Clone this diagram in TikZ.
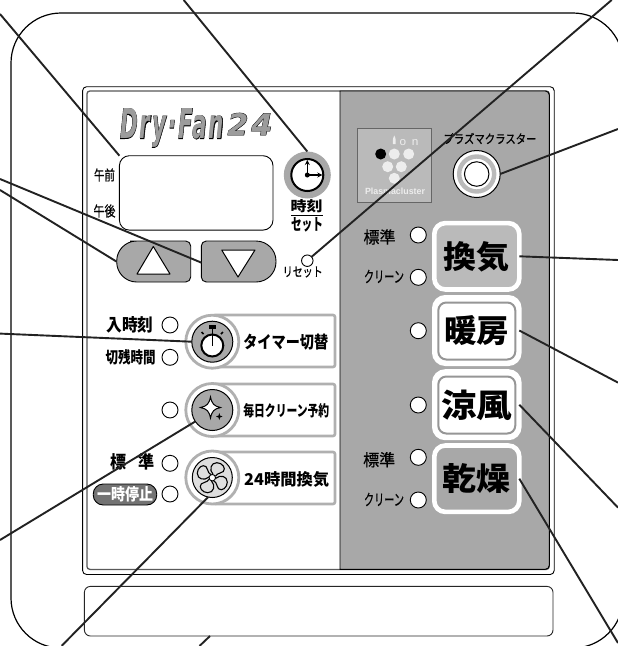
\documentclass[tikz,border=0pt]{standalone}
\usepackage{graphicx}
\usepackage{fontspec}
\usetikzlibrary{arrows.meta}
\newfontfamily\jpf[FakeBold=.7]{Noto Sans CJK JP}
\newfontfamily\jpb{Noto Sans CJK JP Bold}
\newfontfamily\lsf{Liberation Sans}
\newfontfamily\logof[LetterSpace=9]{DejaVu Sans}
\newfontfamily\logofb[FakeBold=2.2,LetterSpace=9]{DejaVu Sans}
\newcommand\jt[3]{\resizebox{#1pt}{#2pt}{\jpf #3}}
\newcommand\jb[3]{\resizebox{#1pt}{#2pt}{\normalfont\fontspec{Noto Sans CJK JP}\bfseries #3}}
\newcommand\brandtext[1]{\rlap{\logofb\bfseries\itshape\color{black}#1}{\logof\bfseries\itshape\color{brandgray}#1}}
\definecolor{panel}{HTML}{A8A8A8}
\definecolor{brandgray}{HTML}{9C9C9C}
\definecolor{lgt}{HTML}{BABABA}
\definecolor{ring}{HTML}{B0B0B0}
\definecolor{leader}{HTML}{222222}
\tikzset{
  x=1pt,y=-1pt,
  txt/.style={inner sep=0pt,outer sep=0pt},
  led/.style={circle,draw=black,line width=.9pt,fill=white,minimum size=16pt,inner sep=0pt,outer sep=0pt},
  ringbtn/.style={circle,draw=ring,line width=2.8pt,fill=white,minimum size=53pt,inner sep=0pt,outer sep=0pt},
  corebtn/.style={circle,draw=black,line width=1pt,fill=panel,minimum size=41pt,inner sep=0pt,outer sep=0pt},
  labelbox/.style={rectangle,draw=ring,line width=2.6pt,fill=white,rounded corners=2pt,inner sep=0pt,minimum width=122pt,minimum height=52pt,outer sep=0pt},
  modebtn/.style={rectangle,draw=white,line width=4.6pt,rounded corners=11pt,minimum width=85pt,minimum height=66.4pt,inner sep=0pt,outer sep=0pt},
  modein/.style={rectangle,draw=ring!85!black,line width=2pt,fill=white,rounded corners=8pt,minimum width=77pt,minimum height=57pt,inner sep=0pt,outer sep=0pt},
  arrowkey/.style={draw=black,line width=.9pt,fill=panel},
  tri/.style={draw=black,line width=1pt,fill=white,line join=round},
  leaderline/.style={draw=leader,line width=1.9pt},
  dotw/.style={circle,fill=white!93!black,minimum size=11pt,inner sep=0pt},
}
\begin{document}
\begin{tikzpicture}
\useasboundingbox (0,0) rectangle (618,646);
\clip (0,0) rectangle (618,646);
\fill[white] (0,0) rectangle (618,646);
% outer case
\draw[black,line width=1.2pt,rounded corners=50pt] (11,13) rectangle (623,648);
% panel
\node[rectangle,draw=black,line width=.9pt,rounded corners=4pt,fill=white,minimum width=471.6pt,minimum height=487.8pt,inner sep=0pt] (panelO) at (318.4,330.6) {};
\node[rectangle,draw=black!65,line width=1.3pt,rounded corners=3pt,fill=white,minimum width=462.4pt,minimum height=478.4pt,inner sep=0pt] (panelI) at (318.1,330.2) {};
\draw[black,line width=.9pt,fill=panel] (340,91) [rounded corners=4pt] -- (549.3,91) -- (549.3,569.3) [sharp corners] -- (340,569.3) -- cycle;
% lower slot
\node[rectangle,draw=black!85,line width=.9pt,rounded corners=6pt,minimum width=468.6pt,minimum height=49.6pt,inner sep=0pt] (slot) at (318.7,611.2) {};
% brand
\node[txt] (brand) at (172,128) {\resizebox{104pt}{30pt}{\brandtext{Dry·Fan}}};
\node[txt] (brand2) at (250,124) {\resizebox{45pt}{22pt}{\brandtext{24}}};
% display
\node[rectangle,draw=black,line width=.9pt,rounded corners=10pt,minimum width=153.6pt,minimum height=74.4pt,inner sep=0pt,outer sep=0pt] (disp) at (196.2,192.9) {};
\node[txt] (am) at (104.5,175) {\jt{21}{12}{午前}};
\node[txt] (pm) at (104.5,211) {\jt{22}{12}{午後}};
% clock
\node[circle,fill=panel,minimum size=47pt,inner sep=0pt,outer sep=0pt] (clock) at (307.3,175) {};
\node[circle,draw=black,line width=2pt,fill=white,minimum size=32pt,inner sep=0pt] (clockface) at (307.3,175) {};
\node[circle,fill=black,minimum size=5pt,inner sep=0pt] (clockhub) at (307.3,175) {};
\draw[-{Stealth[length=5pt,width=5pt]},line width=1.1pt] (clockhub.center) -- +(0,-15);
\draw[-{Stealth[length=5pt,width=5pt]},line width=1.1pt] (clockhub.center) -- +(15,0);
\node[txt] (jikoku) at (306.7,206) {\jb{32}{12}{時刻}};
\draw[black,line width=.9pt] (291,215.2) -- (323,215.2);
\node[txt] (set) at (307,225) {\jb{32}{13}{セット}};
% arrow keys
\draw[arrowkey] (150,241) [rounded corners=5pt] -- (190.7,241) -- (190.7,282) [rounded corners=20pt] -- (116.7,282) -- (116.7,241) -- cycle;
\draw[arrowkey] (240,241) [rounded corners=20pt] -- (276,241) -- (276,282) [rounded corners=5pt] -- (201.3,282) -- (201.3,241) -- cycle;
\draw[tri] (153.3,246.5) -- (170,274) -- (137,274) -- cycle;
\draw[tri] (221.7,250) -- (255,250) -- (238,277) -- cycle;
% reset
\node[circle,draw=black,line width=.9pt,fill=white,minimum size=11.5pt,inner sep=0pt,outer sep=0pt] (reset) at (307.3,260.7) {};
\node[txt] (resett) at (302.7,272) {\jt{40}{10}{リセット}};
% timer row
\node[labelbox] (boxT) at (274,341) {};
\node[ringbtn] (ringT) at (212.3,341.7) {};
\node[corebtn] (coreT) at (212.3,341.7) {};
\draw[black,line width=1.6pt] (201.5,332) -- (203.5,334);
\draw[black,line width=1.6pt] (223,332) -- (221,334);
\fill[black] (209,325) rectangle (215.6,329);
\draw[black,line width=1.6pt] (212.3,328) -- (212.3,334);
\node[circle,draw=black,line width=2pt,fill=white,minimum size=22pt,inner sep=0pt] (watch) at (212.3,345.5) {};
\draw[black,line width=1.1pt] (212.3,345.5) -- (212.3,334.5);
\node[txt] (t1) at (285.8,342) {\jb{85}{14.5}{タイマー切替}};
\node[led] (ledT1) at (170,325) {};
\node[led] (ledT2) at (170,357.3) {};
\node[txt] (inj) at (130,325) {\jb{47}{15}{入時刻}};
\node[txt] (kir) at (130.7,357.5) {\jb{50}{14}{切残時間}};
% daily row
\node[labelbox] (boxD) at (274,410) {};
\node[ringbtn] (ringD) at (212.3,410) {};
\node[corebtn] (coreD) at (212.3,410) {};
\draw[black,line width=1pt,fill=white] (210.5,397) .. controls (212,404) and (214,406) .. (220.5,407.5) .. controls (214,409) and (212,411) .. (210.5,418) .. controls (209,411) and (207,409) .. (200.5,407.5) .. controls (207,406) and (209,404) .. (210.5,397) -- cycle;
\fill[black] (219.3,413) .. controls (219.6,415.5) and (220,416) .. (222.5,416.5) .. controls (220,417) and (219.6,417.5) .. (219.3,420) .. controls (219,417.5) and (218.6,417) .. (216,416.5) .. controls (218.6,416) and (219,415.5) .. (219.3,413) -- cycle;
\node[txt] (t2) at (286.3,410.5) {\jb{86}{13}{毎日クリーン予約}};
\node[led] (ledD) at (170,410) {};
% 24h row
\node[labelbox] (boxV) at (274,478) {};
\node[ringbtn] (ringV) at (212.3,477.5) {};
\node[corebtn,fill=black!13,minimum size=40pt] (coreV) at (212.3,477.5) {};
\foreach \a in {0,90,180,270}{
  \begin{scope}[shift={(212.3,477.7)},rotate=\a]
    \draw[black,line width=1.1pt] (0.8,-3.2) .. controls (-3.5,-8) and (-1.5,-15) .. (4.5,-15) .. controls (10,-15) and (14,-9.5) .. (11,-6.2) .. controls (8.5,-3.5) and (5.5,-5.5) .. (3.2,-1.5);
  \end{scope}
}
\node[circle,draw=black,line width=.9pt,fill=white,minimum size=6.5pt,inner sep=0pt] (hub) at (212.3,477.7) {};
\node[txt] (t3) at (286.7,479.5) {\jb{85}{14}{24時間換気}};
\node[led] (ledV1) at (170,463.3) {};
\node[led] (ledV2) at (170,494) {};
\node[txt] (hyo) at (132.5,462) {\jb{45}{15}{標\hspace{.8em}準}};
\node[rectangle,draw=black,line width=.9pt,fill=black!55,rounded corners=10pt,minimum width=63.5pt,minimum height=21pt,inner sep=0pt] (pause) at (125,494.5) {\resizebox{56pt}{14pt}{\fontspec{Noto Sans CJK JP}\bfseries\color{white}一時停止}};
% plasmacluster logo
\node[rectangle,draw=black!60,line width=1pt,fill=lgt,minimum size=74pt,inner sep=0pt] (logo) at (394.3,165.3) {};
\node[circle,fill=black,minimum size=11pt,inner sep=0pt] (d0) at (380.7,154) {};
\node[dotw] (d1) at (394.3,154) {};
\node[dotw] (d2) at (408.7,154) {};
\node[dotw] (d3) at (387.7,166.7) {};
\node[dotw] (d4) at (401.3,166.7) {};
\node[dotw] (d5) at (394.3,178.3) {};
\fill[white!93!black] (394.3,135.5) .. controls (396,139) and (396,141) .. (395.6,144) -- (393,144) .. controls (392.6,141) and (392.6,139) .. (394.3,135.5) -- cycle;
\node[txt] (on) at (409,143) {\resizebox{19pt}{6pt}{\lsf\color{white!93!black}o\hspace{.5em}n}};
\node[txt] (plc) at (395,191.7) {\resizebox{60pt}{6.5pt}{\lsf\bfseries\color{white!93!black}Plasmacluster}};
\node[txt] (plt) at (490,138.5) {\jt{93}{10.5}{プラズマクラスター}};
\node[circle,draw=black,line width=1pt,fill=white,minimum size=47pt,inner sep=0pt,outer sep=0pt] (pl) at (476.7,174) {};
\node[circle,draw=lgt,line width=4.4pt,fill=white,minimum size=35pt,inner sep=0pt] (pl2) at (476.7,174) {};
\node[circle,draw=black,line width=1pt,fill=white,minimum size=24.5pt,inner sep=0pt] (pl3) at (476.7,174) {};
% mode buttons
\node[modebtn,fill=lgt] (kanki) at (476.8,256.3) {\jb{66}{27}{換気}};
\node[modebtn,fill=white] (dan) at (476.8,330.5) {};
\node[modein] (danI) at (476.8,331) {\jb{65}{27}{暖房}};
\node[modebtn,fill=white] (ryo) at (476.8,404.7) {};
\node[modein] (ryoI) at (476.8,405) {\jb{71}{27.5}{涼風}};
\node[modebtn,fill=panel] (kan) at (476.8,478.7) {\jb{68}{27}{乾燥}};
% right LEDs
\node[led] (r1) at (418.3,235) {};
\node[led] (r2) at (418.3,277.3) {};
\node[led] (r3) at (418.3,330.7) {};
\node[led] (r4) at (418.3,405) {};
\node[led] (r5) at (418.3,457.3) {};
\node[led] (r6) at (418.3,500) {};
\node[txt] (rt1) at (379.5,237) {\jt{32}{14}{標準}};
\node[txt] (rt2) at (384,276.5) {\jt{40}{12.7}{クリーン}};
\node[txt] (rt3) at (379.2,459.7) {\jt{32}{14}{標準}};
\node[txt] (rt4) at (384,499.5) {\jt{40}{12.7}{クリーン}};
% leader free ends
\coordinate (eDisp) at (0,14);
\coordinate (eClock) at (183.7,0);
\coordinate (eReset) at (611.7,0);
\coordinate (eDown) at (0,179);
\coordinate (eUp) at (0,190);
\coordinate (eTimer) at (0,333.6);
\coordinate (eDaily) at (0,540);
\coordinate (eFan) at (61.7,645.8);
\coordinate (eSlot) at (199.5,646);
\coordinate (eKanki) at (618,260);
\coordinate (ePlasma) at (618,129);
\coordinate (eDan) at (618,382.6);
\coordinate (eRyo) at (618,507.6);
\coordinate (eKan) at (618,643);
\coordinate (upKey) at (116.7,261.7);
\coordinate (downKey) at (201.5,262.7);
\coordinate (slotEnd) at (210,636);
% leaders
\draw[leaderline] (eDisp) -- (disp.north west);
\draw[leaderline] (eClock) -- (clock.north);
\draw[leaderline] (eReset) -- (reset.42);
\draw[leaderline] (eDown) -- (downKey);
\draw[leaderline] (eUp) -- (upKey);
\draw[leaderline] (eTimer) -- (coreT.west);
\draw[leaderline] (eDaily) -- (coreD.214);
\draw[leaderline] (eFan) -- (coreV.258);
\draw[leaderline] (eSlot) -- (slotEnd);
\draw[leaderline] (ePlasma) -- (pl.east);
\draw[leaderline] (eKanki) -- (kanki.east);
\draw[leaderline] (eDan) -- (dan.east);
\draw[leaderline] (eRyo) -- (ryo.east);
\draw[leaderline] (eKan) -- (kan.east);
\end{tikzpicture}
\end{document}
